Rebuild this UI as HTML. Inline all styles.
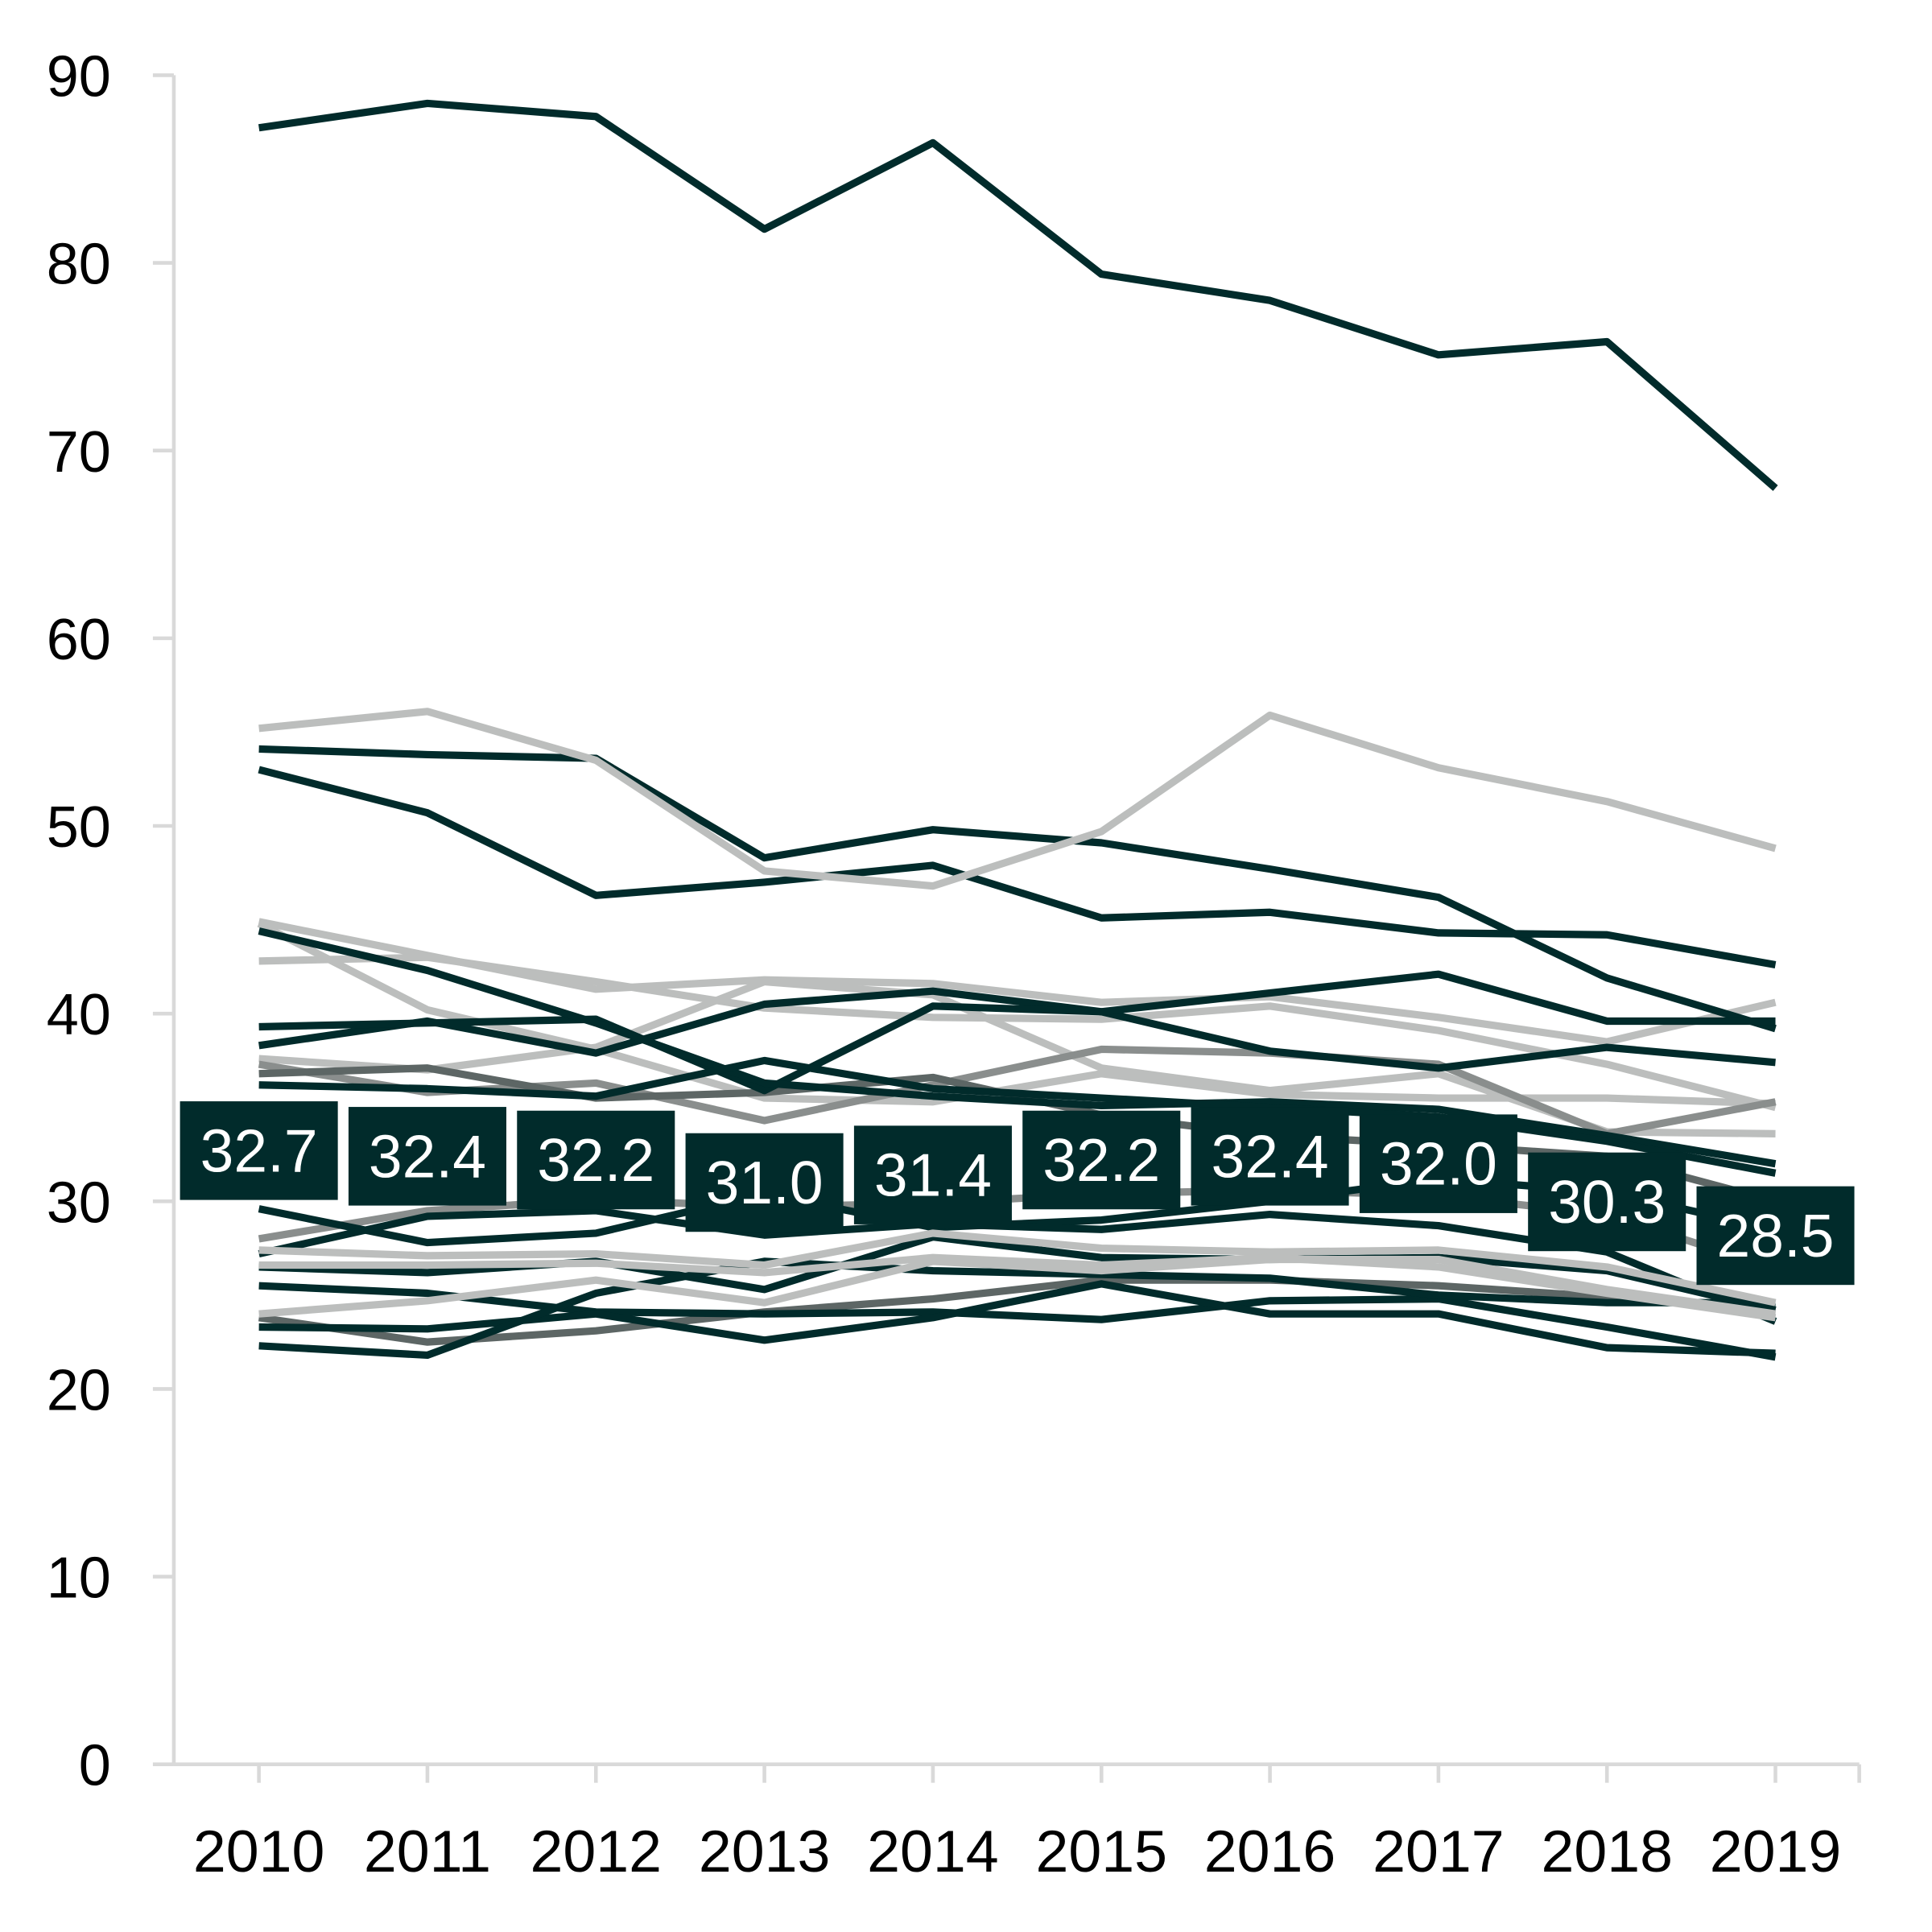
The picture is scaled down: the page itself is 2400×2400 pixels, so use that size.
<!DOCTYPE html>
<html><head><meta charset="utf-8"><style>
html,body{margin:0;padding:0;background:#fff}
svg{display:block}
text{font-family:"Liberation Sans",sans-serif}
</style></head><body>
<svg id="s" width="2400" height="2400" viewBox="0 0 1567 1567" xmlns="http://www.w3.org/2000/svg"></svg>
<script>
const s=document.getElementById('s');
const NS='http://www.w3.org/2000/svg';
function el(t,a,txt){const e=document.createElementNS(NS,t);for(const k in a)e.setAttribute(k,a[k]);if(txt!==undefined)e.textContent=txt;s.appendChild(e);return e;}
const Y=v=>1431-v*15.222, X=i=>210+136.67*i;
el('line',{x1:141,y1:61,x2:141,y2:1431,stroke:'#d9d9d9','stroke-width':3});
el('line',{x1:141,y1:1431,x2:1508,y2:1431,stroke:'#d9d9d9','stroke-width':3});
for(let v=0;v<=90;v+=10){const y=Y(v);el('line',{x1:124,y1:y,x2:141,y2:y,stroke:'#d9d9d9','stroke-width':3});
 el('text',{x:90,y:y+17,'font-size':47,'text-anchor':'end',fill:'#000'},String(v));}
for(let i=0;i<10;i++){el('line',{x1:X(i),y1:1431,x2:X(i),y2:1446,stroke:'#d9d9d9','stroke-width':3});
 el('text',{x:X(i),y:1518,'font-size':48,'text-anchor':'middle',fill:'#000'},String(2010+i));}
el('line',{x1:1508,y1:1431,x2:1508,y2:1446,stroke:'#d9d9d9','stroke-width':3});
const D='#012b2b',G='#bcbebd',M='#8a8e8d',M2='#5d6665';
const L=[
[G,[44.9,43.1,41.3,41.8,41.6,40.6,40.9,39.8,38.5,40.6]],
[G,[44.8,40.2,38.1,35.5,35.3,36.8,35.7,35.5,35.5,35.2]],
[G,[42.8,43,41.7,40.3,39.8,39.7,40.4,39.1,37.3,35]],
[G,[37.6,37,38.2,41.7,41,37.1,35.9,36.8,33.7,33.6]],
[M,[37.3,35.8,36.3,34.3,36.2,38.1,37.9,37.3,33.6,35.3]],
[M2,[36.8,37.1,35.5,35.8,36.6,34.6,33.5,33,32.4,30]],
[M,[28,29.5,30.1,29.7,29.9,30.4,30.6,30.3,29.3,26.4]],
[M2,[23.8,22.5,23.1,24.1,24.8,25.8,25.8,25.5,24.9,24.2]],
[D,[87.2,88.5,87.8,81.8,86.4,79.4,78,75.1,75.8,68]],
[D,[54.1,53.8,53.6,48.3,49.8,49.1,47.7,46.2,41.9,39.2]],
[D,[53,50.7,46.3,47,47.9,45.1,45.4,44.3,44.2,42.6]],
[D,[38.3,39.6,37.9,40.5,41.2,40.1,38,37.1,38.2,37.4]],
[D,[39.3,39.5,39.7,35.9,40.4,40.1,41.1,42.1,39.6,39.6]],
[D,[44.4,42.3,39.5,36.3,35.6,35.1,35.3,34.9,33.5,32]],
[D,[36.2,36,35.6,37.5,36,35.5,35,34.5,33.2,31.5]],
[D,[29.6,27.8,28.3,30.4,28.6,29,30,31.2,30.5,28.5]],
[D,[26.5,26.2,26.8,25.3,28.1,27,26.9,27,26.3,24.2]],
[D,[25.5,25.1,24.1,24,24.1,23.7,24.7,24.8,23.3,21.7]],
[D,[23.3,23.2,24,22.6,23.8,25.6,24,24,22.2,21.9]],
[D,[22.3,21.8,25.1,26.8,26.3,26.1,25.9,25,24.6,24.6]],
[D,[27.2,29.2,29.5,28.2,28.8,28.5,29.3,28.7,27.3,23.6]],
[G,[55.2,56.1,53.5,47.6,46.8,49.7,55.9,53.1,51.3,48.8]],
[G,[27.4,27.1,27.2,26.6,28.3,27.5,27.3,27.4,26.5,24.6]],
[G,[24,24.7,25.8,24.6,26.8,26.3,26.9,26.9,25.3,24]],
[G,[26.6,26.6,26.7,26.2,27,26.6,27,26.5,25.1,23.8]],
];
for(const [c,v] of L){el('polyline',{points:v.map((d,i)=>X(i)+','+Y(d)).join(' '),fill:'none',stroke:c,'stroke-width':6,'stroke-linejoin':'round'});}
const lab=[32.7,32.4,32.2,31.0,31.4,32.2,32.4,32.0,30.3,28.5];
lab.forEach((v,i)=>{const cy=Y(v)+(i>=8?5:0);el('rect',{x:X(i)-64,y:cy-40,width:128,height:80,fill:'#012b2b'});
 el('text',{x:X(i),y:cy+17,'font-size':49,'text-anchor':'middle',fill:'#fff'},v.toFixed(1));});
</script>
</body></html>
